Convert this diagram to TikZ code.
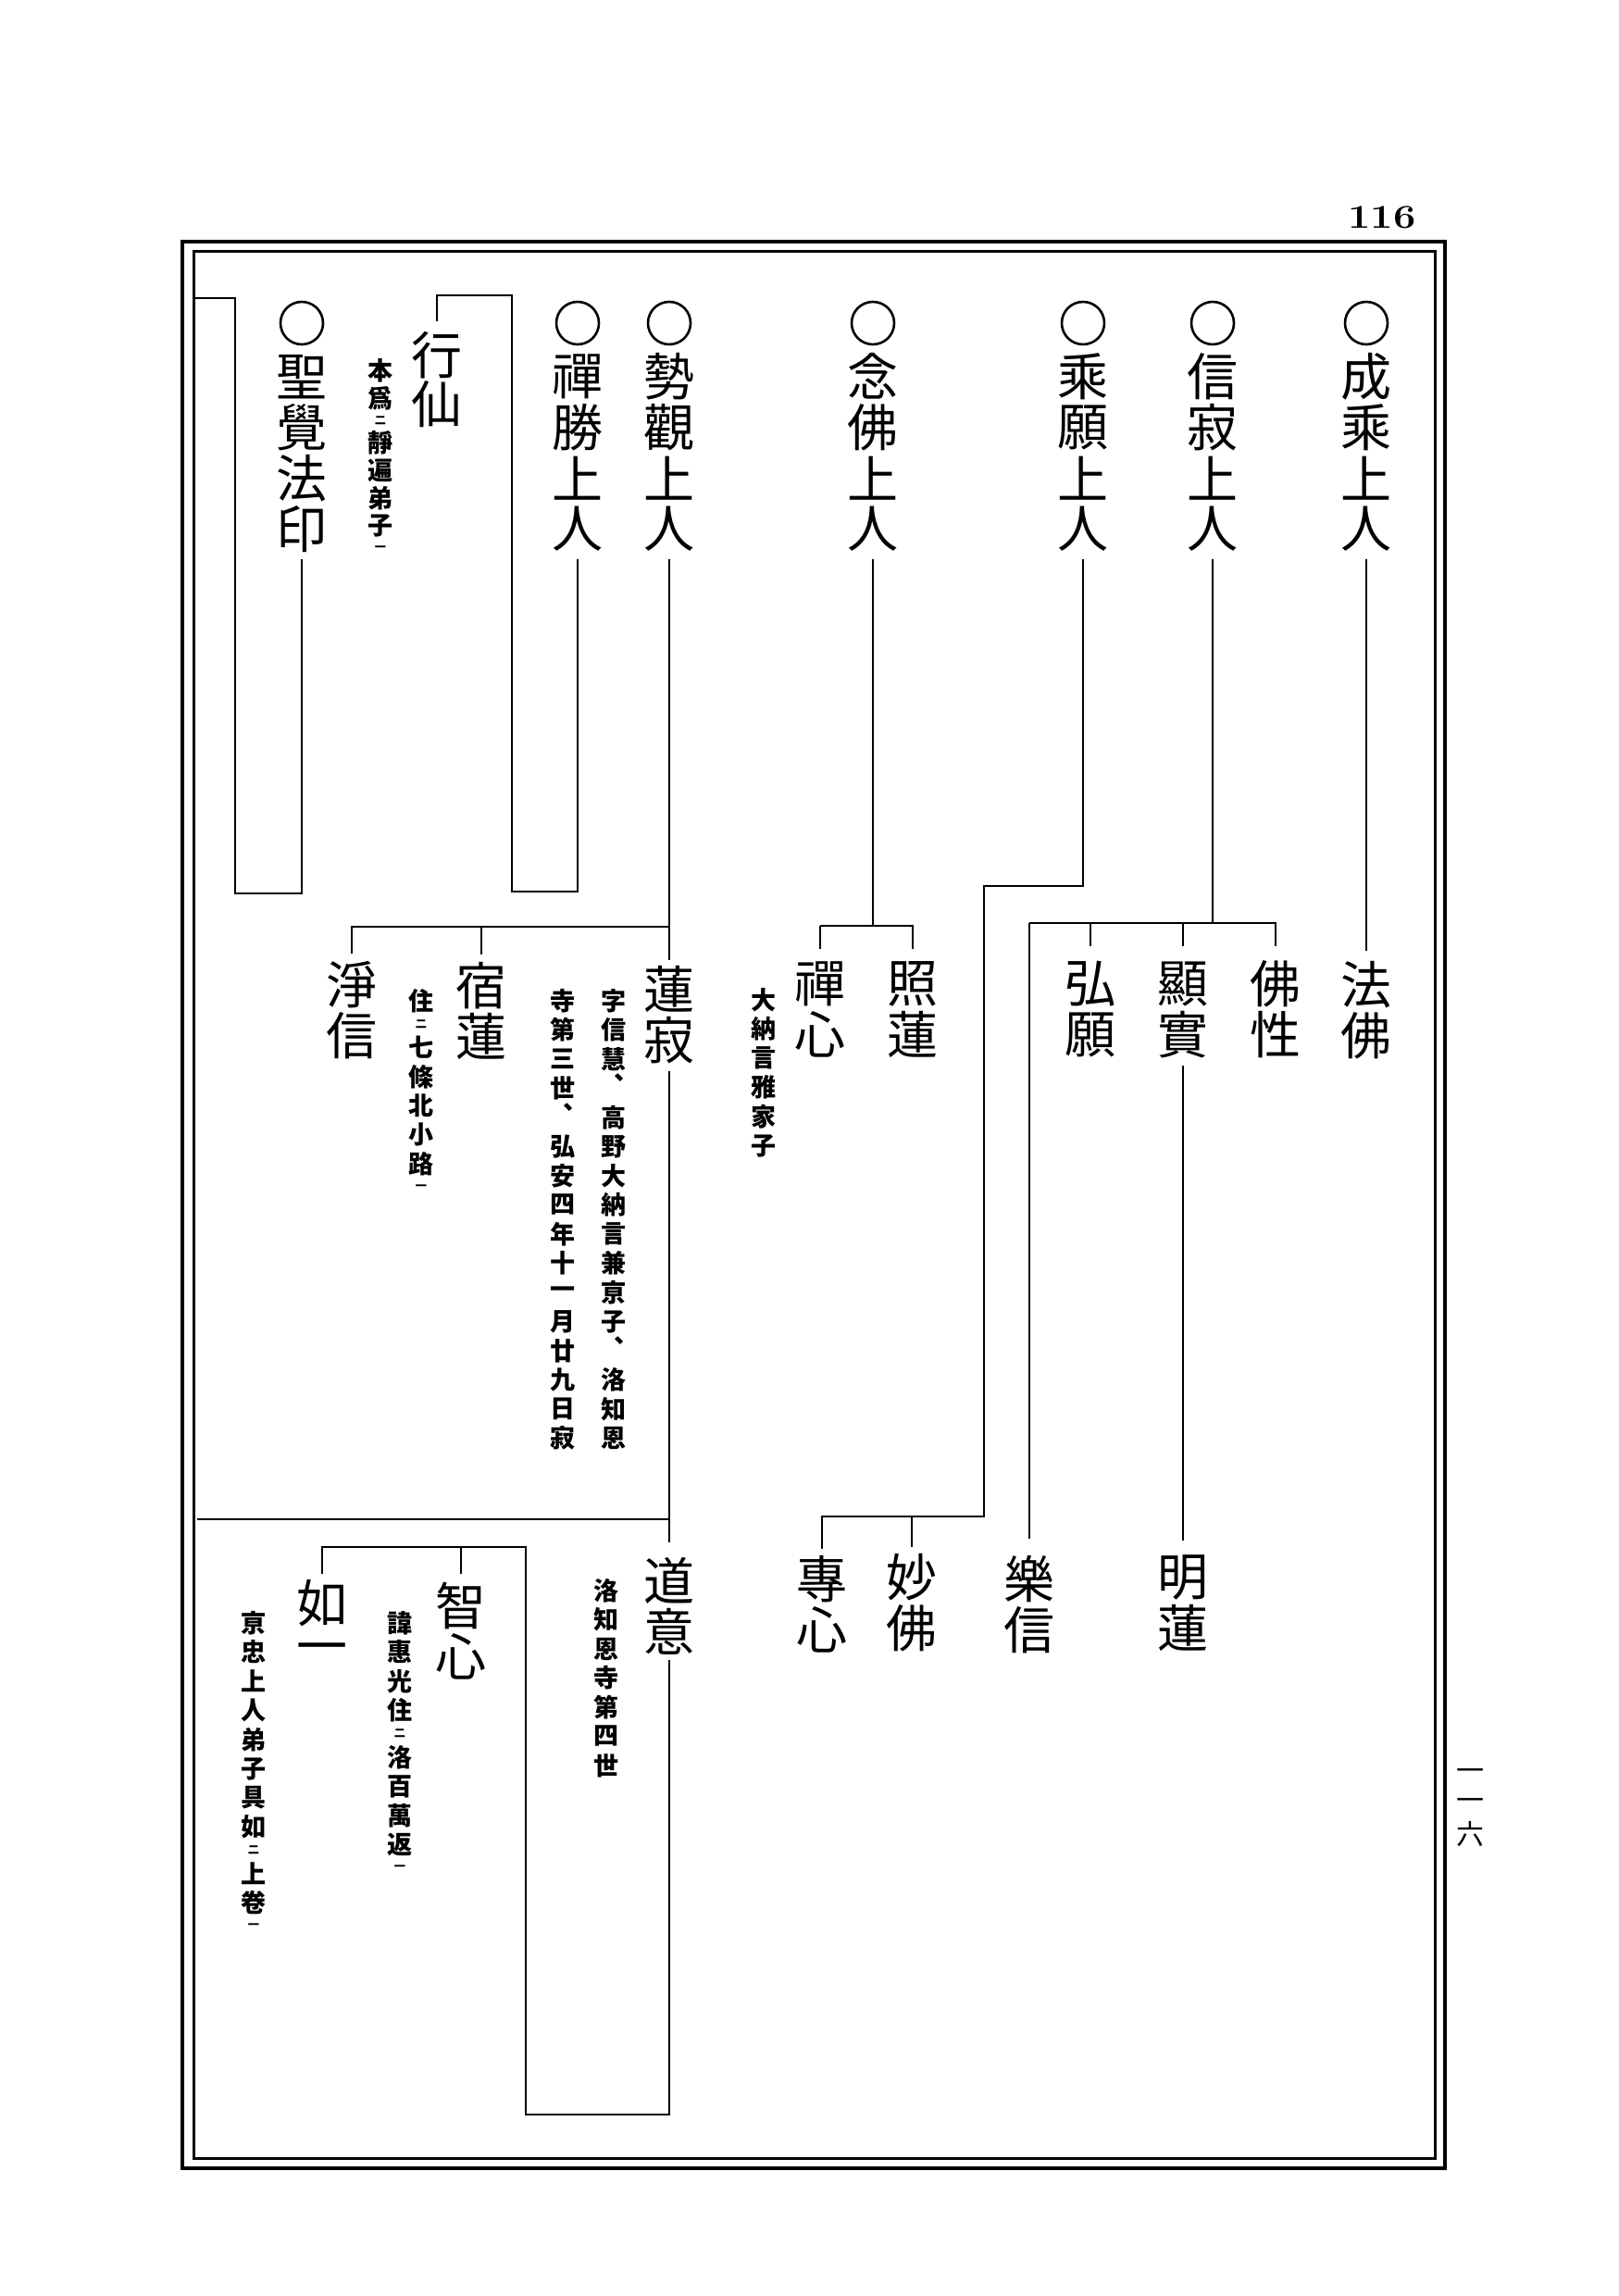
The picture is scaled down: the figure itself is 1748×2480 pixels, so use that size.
\documentclass[tikz,border=0pt]{standalone}
\usepackage{fontspec}
\usepackage{graphicx}
\newfontfamily\cjk{Noto Sans CJK JP}
\usetikzlibrary{calc}
\ExplSyntaxOn
\dim_new:N \l__vt_pitch_dim
\cs_new_protected:Npn \__vt_cell:n #1
  {
    \vbox_to_ht:nn { \l__vt_pitch_dim }
      { \vss \hbox_to_wd:nn { 1em } { \hss #1 \hss } \vss }
  }
\cs_new_protected:Npn \__vt_small:n #1
  {
    \vbox_to_ht:nn { 0.6\l__vt_pitch_dim }
      { \vss \hbox_to_wd:nn { 1em } { \hss \scalebox{0.45}{#1} \hss } \vss }
  }
\cs_new_protected:Npn \__vt_comma:
  {
    \vbox_to_ht:nn { \l__vt_pitch_dim }
      { \hbox_to_wd:nn { 1em } { \hskip 0.5em \hbox_to_wd:nn { 0.5em } { \hbox_overlap_right:n { 、 } \hss } } \vss }
  }
\NewDocumentCommand \vstack { O{55pt} m }
  {
    \dim_set:Nn \l__vt_pitch_dim {#1}
    \vbox:n
      {
        \offinterlineskip
        \tl_map_inline:nn {#2}
          {
            \str_case:nnF {##1}
              {
                {㆓} { \__vt_small:n {二} }
                {㆒} { \__vt_small:n {一} }
                {、} { \__vt_comma: }
              }
              { \__vt_cell:n {##1} }
          }
      }
  }
\ExplSyntaxOff
\begin{document}
\begin{tikzpicture}[x=1pt,y=-1pt,
  ln/.style={line width=2.5pt},
  nm/.style={inner sep=0pt, anchor=north, font=\cjk\fontsize{55}{55}\selectfont},
  an/.style={inner sep=0pt, anchor=north, font=\cjk\bfseries\fontsize{27}{30}\selectfont},
  ring/.style={circle, draw, line width=2.6pt, minimum size=46pt, inner sep=0pt}]
\fill[white] (0,0) rectangle (1748,2480);
\useasboundingbox (0,0) rectangle (1748,2480);
% frame
\draw[line width=3.5pt] (197,261) rectangle (1561,2342);
\draw[line width=3pt] (209,272) rectangle (1550,2331);
% page numbers
\node[inner sep=0pt, font=\fontsize{36}{36}\selectfont\bfseries] (pg) at (1493,235) {\scalebox{1.2}[1]{116}};
\node[inner sep=0pt, anchor=north, font=\cjk\fontsize{30}{32}\selectfont] (pg2) at (1588,1901) {\vstack[32pt]{一一六}};
% row 1
\node[ring] (r1) at (1476,349) {};
\node[nm] (joujou) at (1476,379) {\vstack{成乘上人}};
\node[ring] (r2) at (1310,349) {};
\node[nm] (shinjaku) at (1310,379) {\vstack{信寂上人}};
\node[ring] (r3) at (1170,349) {};
\node[nm] (jougan) at (1170,379) {\vstack{乘願上人}};
\node[ring] (r4) at (943,349) {};
\node[nm] (nenbutsu) at (943,379) {\vstack{念佛上人}};
\node[ring] (r5) at (723,349) {};
\node[nm] (seikan) at (723,379) {\vstack{勢觀上人}};
\node[ring] (r6) at (624,349) {};
\node[nm] (zenshou) at (624,379) {\vstack{禪勝上人}};
\node[ring] (r7) at (326,349) {};
\node[nm] (shougaku) at (326,379) {\vstack{聖覺法印}};
\node[nm] (gyousen) at (472,357) {\vstack[53pt]{行仙}};
\node[an] (a1) at (411,385) {\vstack[30pt]{本爲㆓靜遍弟子㆒}};
% row 2
\node[nm] (houbutsu) at (1476,1036) {\vstack{法佛}};
\node[nm] (busshou) at (1378,1035) {\vstack{佛性}};
\node[nm] (kenjitsu) at (1278,1035) {\vstack{顯實}};
\node[nm] (kougan) at (1178,1035) {\vstack{弘願}};
\node[nm] (shouren) at (986,1035) {\vstack{照蓮}};
\node[nm] (zenshin) at (886,1035) {\vstack{禪心}};
\node[nm] (renjaku) at (723,1041) {\vstack{蓮寂}};
\node[nm] (shukuren) at (520,1037) {\vstack{宿蓮}};
\node[nm] (joushin) at (380,1036) {\vstack{淨信}};
\node[an] (a2) at (455,1065) {\vstack[31.5pt]{住㆓七條北小路㆒}};
\node[an] (a3) at (663,1065) {\vstack[31.5pt]{字信慧、高野大納言兼亰子、洛知恩}};
\node[an] (a4) at (608,1065) {\vstack[31.5pt]{寺第三世、弘安四年十一月廿九日寂}};
\node[an] (a5) at (825,1064) {\vstack[31.5pt]{大納言雅家子}};
% row 3
\node[nm] (myouren) at (1278,1676) {\vstack{明蓮}};
\node[nm] (rakushin) at (1112,1678) {\vstack{樂信}};
\node[nm] (myoubutsu) at (985,1676) {\vstack{妙佛}};
\node[nm] (senshin) at (888,1678) {\vstack{專心}};
\node[nm] (doui) at (723,1680) {\vstack{道意}};
\node[nm] (chishin) at (498,1707) {\vstack{智心}};
\node[nm] (nyoichi) at (348,1704) {\vstack{如一}};
\node[an] (a6) at (655,1702) {\vstack[31.5pt]{洛知恩寺第四世}};
\node[an] (a7) at (432,1737) {\vstack[31.5pt]{諱惠光住㆓洛百萬返㆒}};
\node[an] (a8) at (274,1737) {\vstack[31.5pt]{亰忠上人弟子具如㆓上卷㆒}};
% bars
\coordinate (bS) at (0,997);
\coordinate (bN) at (0,1000);
\coordinate (bK) at (0,1001);
\coordinate (j1) at (1063,957);
\coordinate (j2) at (1063,1638);
\coordinate (k0) at (213,1641);
\coordinate (k1) at (568,2284);
\coordinate (k2) at (568,1671);
\coordinate (m1) at (553,963);
\coordinate (m2) at (553,319);
\coordinate (n1) at (254,965);
\coordinate (n2) at (254,322);
\coordinate (n3) at (210,322);
% connectors
\draw[ln,shorten <=5pt,shorten >=9pt] (joujou.south) -- (houbutsu.north);
\draw[ln,shorten <=5pt] (shinjaku.south) -- (shinjaku.south |- bS);
\draw[ln,shorten >=13pt] (rakushin.north |- bS) -| (busshou.north);
\draw[ln,shorten >=13pt] (kenjitsu.north |- bS) -- (kenjitsu.north);
\draw[ln,shorten >=13pt] (kougan.north |- bS) -- (kougan.north);
\draw[ln,shorten >=16pt] (rakushin.north |- bS) -- (rakushin.north);
\draw[ln,shorten <=6pt,shorten >=12pt] (kenjitsu.south) -- (myouren.north);
\draw[ln,shorten <=5pt,shorten >=5pt] (jougan.south) |- (j1) -- (j2) -| (senshin.north);
\draw[ln,shorten >=5pt] (myoubutsu.north |- j2) -- (myoubutsu.north);
\draw[ln,shorten <=5pt] (nenbutsu.south) -- (nenbutsu.south |- bN);
\draw[ln,shorten >=10pt] (zenshin.north |- bN) -| (shouren.north);
\draw[ln,shorten >=10pt] (zenshin.north |- bN) -- (zenshin.north);
\draw[ln,shorten <=5pt,shorten >=4pt] (seikan.south) -- (renjaku.north);
\draw[ln,shorten >=6pt] (renjaku.north |- bK) -| (joushin.north);
\draw[ln,shorten >=6pt] (shukuren.north |- bK) -- (shukuren.north);
\draw[ln,shorten <=6pt,shorten >=14pt] (renjaku.south) -- (doui.north);
\draw[ln] (k0) -- (renjaku.south |- k0);
\draw[ln,shorten <=3pt,shorten >=4pt] (doui.south) |- (k1) -- (k2) -| (nyoichi.north);
\draw[ln,shorten >=7pt] (chishin.north |- k2) -- (chishin.north);
\draw[ln,shorten <=5pt,shorten >=10pt] (zenshou.south) |- (m1) -- (m2) -| (gyousen.north);
\draw[ln,shorten <=5pt] (shougaku.south) |- (n1) -- (n2) -- (n3);
\end{tikzpicture}
\end{document}
